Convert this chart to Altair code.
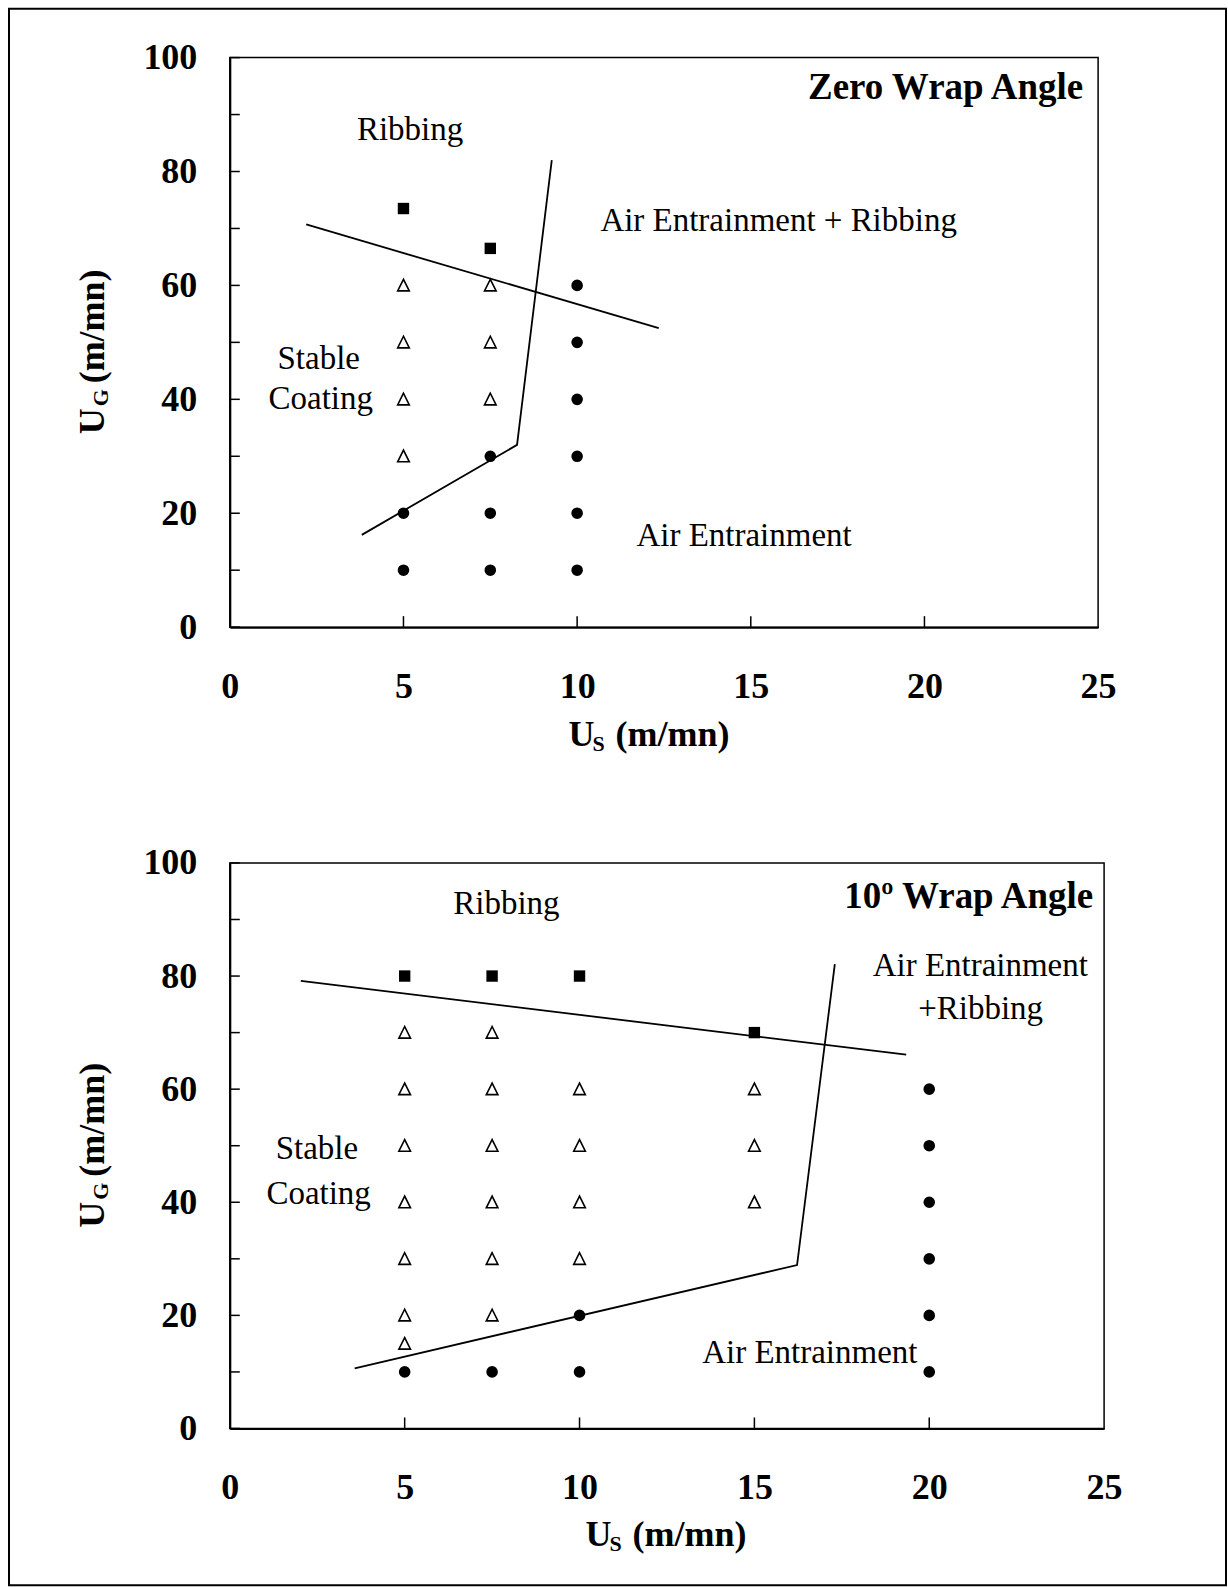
import altair as alt
import pandas as pd

FONT = "Liberation Serif"

# ---------------- data: Zero wrap angle (top panel) ----------------
top_tri_us = [5, 5, 5, 5, 7.5, 7.5, 7.5]
top_tri_ug = [60, 50, 40, 30, 60, 50, 40]
top_circ_us = [5, 5, 7.5, 7.5, 7.5, 10, 10, 10, 10, 10, 10]
top_circ_ug = [20, 10, 30, 20, 10, 60, 50, 40, 30, 20, 10]
top_sq_us = [5, 7.5]
top_sq_ug = [73.5, 66.5]
top_rib_us = [2.2, 12.35]
top_rib_ug = [70.7, 52.5]
top_air_us = [3.8, 8.27, 9.27]
top_air_ug = [16.2, 32.0, 82.0]
top_center_text = ["Ribbing", "Stable", "Coating"]
top_center_us = [5.19, 2.56, 2.62]
top_center_ug = [85.6, 45.4, 38.25]
top_left_text = ["Air Entrainment + Ribbing", "Air Entrainment"]
top_left_us = [10.67, 11.71]
top_left_ug = [69.5, 14.2]
top_title = ["Zero Wrap Angle"]
top_title_us = [24.57]
top_title_ug = [92.8]

# ---------------- data: 10 deg wrap angle (bottom panel) ----------------
bot_tri_us = [5, 5, 5, 5, 5, 5, 5, 7.5, 7.5, 7.5, 7.5, 7.5, 7.5, 10, 10, 10, 10, 15, 15, 15]
bot_tri_ug = [70, 60, 50, 40, 30, 20, 15, 70, 60, 50, 40, 30, 20, 60, 50, 40, 30, 60, 50, 40]
bot_circ_us = [5, 7.5, 10, 10, 20, 20, 20, 20, 20, 20]
bot_circ_ug = [10, 10, 20, 10, 60, 50, 40, 30, 20, 10]
bot_sq_us = [5, 7.5, 10, 15]
bot_sq_ug = [80, 80, 80, 70]
bot_rib_us = [2.03, 19.34]
bot_rib_ug = [79.15, 66.1]
bot_air_us = [3.57, 16.22, 17.3]
bot_air_ug = [10.65, 28.9, 82.1]
bot_center_text = ["Ribbing", "Air Entrainment", "+Ribbing", "Stable", "Coating"]
bot_center_us = [7.91, 21.46, 21.47, 2.49, 2.54]
bot_center_ug = [91.0, 80.0, 72.4, 47.7, 39.75]
bot_left_text = ["Air Entrainment"]
bot_left_us = [13.51]
bot_left_ug = [11.5]
bot_title = ["10º Wrap Angle"]
bot_title_us = [24.69]
bot_title_ug = [92.05]

# axis ticks / labels
x_label_values = [0, 5, 10, 15, 20, 25]
y_label_values = [0, 20, 40, 60, 80, 100]
x_tick_values = [5, 10, 15, 20]
y_tick_values = [0, 10, 20, 30, 40, 50, 60, 70, 80, 90, 100]

TRI = "M0,-1L-0.95,0.9L0.95,0.9Z"


def panel(d, width, height, xt, yt, frame=False):
    xs = alt.Scale(domain=[0, 25], nice=False, zero=False)
    ys = alt.Scale(domain=[0, 100], nice=False, zero=False)
    xa = alt.Axis(values=x_label_values, title="", ticks=False, grid=False,
                  labelPadding=42, labelFlush=False, domainColor="black",
                  domainWidth=2, labelFont=FONT, labelFontSize=36,
                  labelFontWeight="bold", labelColor="black", labelOverlap=False)
    ya = alt.Axis(values=y_label_values, title="", ticks=False, grid=False,
                  labelPadding=33, labelFlush=False, domainColor="black",
                  domainWidth=2, labelFont=FONT, labelFontSize=36,
                  labelFontWeight="bold", labelColor="black", labelOverlap=False)

    def X(f="us"):
        return alt.X(f + ":Q", scale=xs, axis=xa)

    def Y(f="ug"):
        return alt.Y(f + ":Q", scale=ys, axis=ya)

    layers = []
    one = pd.DataFrame({"a": [0]})

    if frame:
        layers.append(
            alt.Chart(one).mark_rect(fill="transparent", stroke="black", strokeWidth=2).encode(
                x=alt.value(-221), x2=alt.value(997), y=alt.value(-49), y2=alt.value(1529))
        )

    # inward ticks
    layers.append(
        alt.Chart(pd.DataFrame({"ug": y_tick_values})).mark_rule(color="black", strokeWidth=1.5).encode(
            y=Y(), x=alt.value(0), x2=alt.value(10))
    )
    layers.append(
        alt.Chart(pd.DataFrame({"us": x_tick_values})).mark_rule(color="black", strokeWidth=1.5).encode(
            x=X(), y=alt.value(height), y2=alt.value(height - 11))
    )

    # boundary lines
    rows = []
    for i, (u, g) in enumerate(zip(d["rib_us"], d["rib_ug"])):
        rows.append({"us": u, "ug": g, "seg": "rib", "ord": i})
    for i, (u, g) in enumerate(zip(d["air_us"], d["air_ug"])):
        rows.append({"us": u, "ug": g, "seg": "air", "ord": i})
    layers.append(
        alt.Chart(pd.DataFrame(rows)).mark_line(color="black", strokeWidth=1.8).encode(
            x=X(), y=Y(), detail="seg:N", order="ord:Q")
    )

    # points
    layers.append(
        alt.Chart(pd.DataFrame({"us": d["tri_us"], "ug": d["tri_ug"]})).mark_point(
            shape=TRI, filled=False, size=150, stroke="black", strokeWidth=1.6, opacity=1).encode(
            x=X(), y=Y())
    )
    layers.append(
        alt.Chart(pd.DataFrame({"us": d["circ_us"], "ug": d["circ_ug"]})).mark_point(
            shape="circle", filled=True, size=135, color="black", opacity=1).encode(
            x=X(), y=Y())
    )
    layers.append(
        alt.Chart(pd.DataFrame({"us": d["sq_us"], "ug": d["sq_ug"]})).mark_point(
            shape="square", filled=True, size=130, color="black", opacity=1).encode(
            x=X(), y=Y())
    )

    # region labels
    layers.append(
        alt.Chart(pd.DataFrame({"t": d["c_text"], "us": d["c_us"], "ug": d["c_ug"]})).mark_text(
            font=FONT, fontSize=33, align="center", baseline="alphabetic", color="black").encode(
            x=X(), y=Y(), text="t:N")
    )
    layers.append(
        alt.Chart(pd.DataFrame({"t": d["l_text"], "us": d["l_us"], "ug": d["l_ug"]})).mark_text(
            font=FONT, fontSize=33, align="left", baseline="alphabetic", color="black").encode(
            x=X(), y=Y(), text="t:N")
    )
    layers.append(
        alt.Chart(pd.DataFrame({"t": d["title"], "us": d["t_us"], "ug": d["t_ug"]})).mark_text(
            font=FONT, fontSize=37, fontWeight="bold", align="right", baseline="alphabetic",
            color="black").encode(x=X(), y=Y(), text="t:N")
    )

    # axis titles with subscripts
    def txt(s, px, py, size, angle=0):
        kw = dict(font=FONT, fontSize=size, fontWeight="bold", align="left",
                  baseline="alphabetic", color="black")
        if angle:
            kw["angle"] = angle
        return alt.Chart(one).mark_text(**kw).encode(
            x=alt.value(px), y=alt.value(py), text=alt.value(s))

    layers.append(txt("U", xt[0], xt[1], 36))
    layers.append(txt("S", xt[0] + 24, xt[1] + 5, 22))
    layers.append(txt("(m/mn)", xt[0] + 47, xt[1], 36))
    layers.append(txt("U", yt[0], yt[1], 36, 270))
    layers.append(txt("G", yt[0] + 4, yt[1] - 28, 22, 270))
    layers.append(txt("(m/mn)", yt[0], yt[1] - 51, 36, 270))

    return alt.layer(*layers).properties(width=width, height=height)


top_d = dict(tri_us=top_tri_us, tri_ug=top_tri_ug, circ_us=top_circ_us, circ_ug=top_circ_ug,
             sq_us=top_sq_us, sq_ug=top_sq_ug, rib_us=top_rib_us, rib_ug=top_rib_ug,
             air_us=top_air_us, air_ug=top_air_ug, c_text=top_center_text, c_us=top_center_us,
             c_ug=top_center_ug, l_text=top_left_text, l_us=top_left_us, l_ug=top_left_ug,
             title=top_title, t_us=top_title_us, t_ug=top_title_ug)
bot_d = dict(tri_us=bot_tri_us, tri_ug=bot_tri_ug, circ_us=bot_circ_us, circ_ug=bot_circ_ug,
             sq_us=bot_sq_us, sq_ug=bot_sq_ug, rib_us=bot_rib_us, rib_ug=bot_rib_ug,
             air_us=bot_air_us, air_ug=bot_air_ug, c_text=bot_center_text, c_us=bot_center_us,
             c_ug=bot_center_ug, l_text=bot_left_text, l_us=bot_left_us, l_ug=bot_left_ug,
             title=bot_title, t_us=bot_title_us, t_ug=bot_title_ug)

top = panel(top_d, 869, 570, xt=(339, 689), yt=(-126, 377), frame=True)
bot = panel(bot_d, 875, 566, xt=(356, 684), yt=(-126, 365))

chart = alt.vconcat(top, bot, spacing=236, bounds="flush").properties(
    padding={"left": 7, "top": 6, "right": 0, "bottom": 0},
    background="white",
).configure_view(stroke="black", strokeWidth=1.5)

chart.save("out.html", embed_options={"renderer": "svg", "actions": False})
